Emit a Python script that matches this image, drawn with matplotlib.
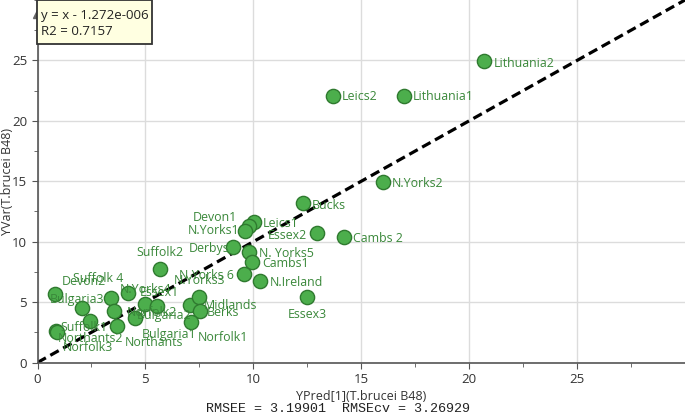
import matplotlib
matplotlib.use('Agg')
import matplotlib.pyplot as plt
from matplotlib.patches import Rectangle
from matplotlib.ticker import MultipleLocator

plt.rcParams['font.family'] = ['Open Sans', 'DejaVu Sans']

# observations: name, predicted (x), observed (y)
names = ['Lithuania2', 'Leics2', 'Lithuania1', 'N.Yorks2', 'Bucks', 'Leics1',
         'Devon1', 'N.Yorks1', 'Essex2', 'Cambs 2', 'Derbys', 'N. Yorks5',
         'Cambs1', 'Suffolk2', 'N.Yorks 6', 'N.Ireland', 'Essex3',
         'Devon2', 'Bulgaria3', 'Northants2', 'Suffolk1', 'Norfolk3',
         'Suffolk 4', 'Norfolk2', 'Northants', 'N.Yorks4', 'Bulgaria1',
         'Essex1', 'Bulgaria2', 'N.Yorks3', 'Midlands', 'Berks', 'Norfolk1']
ypred = [20.71, 13.67, 16.99, 15.99, 12.28, 10.01,
         9.81, 9.60, 12.95, 14.18, 9.04, 9.78,
         9.93, 5.68, 9.55, 10.32, 12.49,
         0.81, 2.05, 2.44, 0.86, 0.90,
         3.41, 3.56, 3.67, 4.20, 4.52,
         4.99, 5.54, 7.07, 7.46, 7.54, 7.12]
yvar = [24.92, 22.08, 22.08, 14.92, 13.16, 11.65,
        11.28, 10.87, 10.68, 10.35, 9.57, 9.13,
        8.33, 7.77, 7.36, 6.74, 5.44,
        5.70, 4.55, 3.47, 2.60, 2.52,
        5.33, 4.26, 3.02, 5.74, 3.68,
        4.88, 4.67, 4.79, 5.44, 4.26, 3.37]

# label placement (offset in pixels, alignment) - avoids overlapping marks
label_pos = [(9, -2, 'left'), (9, -1, 'left'), (9, -1, 'left'), (9, -1, 'left'),
             (9, -2, 'left'), (9, -2, 'left'),
             (-12, 9, 'right'), (-5, 1, 'right'), (-10, -2, 'right'),
             (9, -1, 'left'), (-3, -2, 'right'), (10, -1, 'left'),
             (10, -2, 'left'), (0, 16, 'center'), (-10, -1.5, 'right'),
             (10, -1, 'left'), (0, -18, 'center'),
             (7, 12.5, 'left'), (-32, 8, 'left'), (-32, -18, 'left'),
             (4, 4, 'left'), (6, -15, 'left'),
             (-38, 20, 'left'), (12, -1, 'left'), (8, -16, 'left'),
             (-8, 4, 'left'), (7, -16, 'left'),
             (-5, 11.5, 'left'), (-20, -9, 'left'), (9, 24, 'center'),
             (5, -9, 'left'), (7, -1, 'left'), (7, -16, 'left')]

fit_lines = ['y = x - 1.272e-006', 'R2 = 0.7157']
stats_text = 'RMSEE = 3.19901  RMSEcv = 3.26929'

W, H = 685, 416
fig = plt.figure(figsize=(W / 100, H / 100), dpi=100)
ax = fig.add_axes([37.5 / W, 53.5 / H, 647.5 / W, 362.5 / H])

ax.set_xlim(0, 30)
ax.set_ylim(0, 30)
ax.xaxis.set_minor_locator(MultipleLocator(2.5))
ax.yaxis.set_minor_locator(MultipleLocator(2.5))
ax.set_xticks([0, 5, 10, 15, 20, 25])
ax.set_yticks([0, 5, 10, 15, 20, 25])
ax.grid(True, which='major', color='#dcdcdc', linewidth=1)
ax.set_axisbelow(True)

for s in ['top', 'right']:
    ax.spines[s].set_visible(False)
for s in ['left', 'bottom']:
    ax.spines[s].set_color('#555555')
    ax.spines[s].set_linewidth(1.2)
ax.tick_params(which='major', length=4.5, color='#555555', labelsize=9.5,
               labelcolor='#333333', pad=3)
ax.tick_params(which='minor', length=3, color='#555555')

# y-axis arrow head
ax.plot([0], [0.965], marker='^', color='#666666', markersize=7,
        transform=ax.transAxes, clip_on=False, zorder=5)

# y = x line
ax.plot([0, 30], [0, 30], color='black', linestyle=(0, (3, 1.6)),
        linewidth=2.3, zorder=2)

ax.scatter(ypred, yvar, s=105, color='#4cae4c', edgecolors='#2f7a2f',
           linewidths=1, zorder=3)

for name, x, y, (dx, dy, ha) in zip(names, ypred, yvar, label_pos):
    ax.annotate(name, (x, y), xytext=(dx, dy), textcoords='offset pixels',
                ha=ha, va='center', fontsize=8.9, color='#3a883a', zorder=4)

# regression info box
fig.add_artist(Rectangle((37 / W, 1 - 44 / H), 115 / W, 44 / H,
                         transform=fig.transFigure, facecolor='#ffffe1',
                         edgecolor='#333333', linewidth=1.3, zorder=10))
for i, line in enumerate(fit_lines):
    fig.text(41 / W, 1 - (15 + 16.7 * i) / H, line, ha='left', va='center',
             fontsize=9.5, color='#222222', zorder=11)

ax.set_xlabel('YPred[1](T.brucei B48)', fontsize=9, color='#333333',
              labelpad=3)
ax.set_ylabel('YVar(T.brucei B48)', fontsize=9, color='#333333')
ax.yaxis.set_label_coords(-0.036, 0.5)

fig.text(338 / W, 1 - 409 / H, stats_text, ha='center', va='center',
         family='Liberation Mono', fontsize=9.6, color='#222222')

fig.savefig('out.png', dpi=100)
